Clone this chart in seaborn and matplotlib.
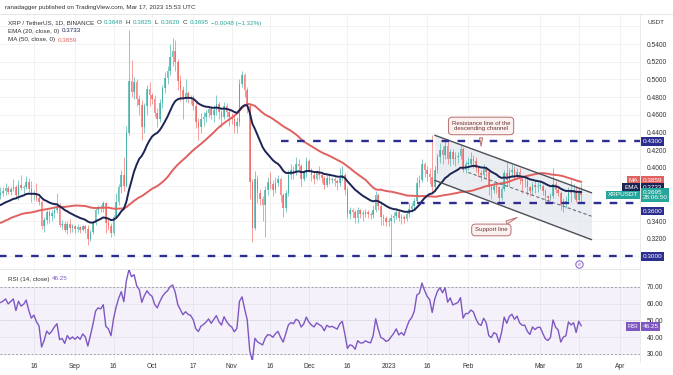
import matplotlib
matplotlib.use("Agg")
import matplotlib.dates as mdates
import matplotlib.pyplot as plt
import numpy as np
import pandas as pd
import seaborn as sns

W, H = 673, 375

# Daily closes before the visible window (2022-06-14 .. 2022-08-02), only used to warm up MA/EMA/RSI
warmup_close = [0.32, 0.32, 0.30, 0.31, 0.30, 0.32, 0.32, 0.33, 0.32, 0.34,
                0.36, 0.36, 0.35, 0.34, 0.33, 0.32, 0.31, 0.32, 0.32, 0.32,
                0.32, 0.32, 0.32, 0.33, 0.34, 0.33, 0.32, 0.31, 0.31, 0.32,
                0.33, 0.34, 0.34, 0.34, 0.36, 0.37, 0.36, 0.36, 0.35, 0.35,
                0.35, 0.33, 0.34, 0.36, 0.37, 0.37, 0.37, 0.38, 0.38, 0.370]

# XRP/USDT daily candles, 2022-08-03 .. 2023-03-17 (open = previous close)
aug_close = [0.372, 0.374, 0.377, 0.373, 0.376, 0.379, 0.370, 0.381, 0.377, 0.379,
             0.384, 0.376, 0.369, 0.372, 0.366, 0.362, 0.335, 0.341, 0.350, 0.346,
             0.349, 0.353, 0.356, 0.336, 0.337, 0.330, 0.337, 0.332, 0.334]
aug_high = [0.378, 0.379, 0.383, 0.380, 0.378, 0.388, 0.381, 0.386, 0.392, 0.381,
            0.391, 0.389, 0.385, 0.375, 0.383, 0.370, 0.364, 0.345, 0.352, 0.352,
            0.352, 0.356, 0.372, 0.360, 0.341, 0.340, 0.340, 0.342, 0.337]
aug_low = [0.365, 0.368, 0.370, 0.371, 0.369, 0.374, 0.366, 0.364, 0.375, 0.371,
           0.376, 0.373, 0.362, 0.364, 0.363, 0.358, 0.331, 0.328, 0.337, 0.338,
           0.340, 0.344, 0.349, 0.333, 0.331, 0.328, 0.325, 0.326, 0.328]

sep_close = [0.331, 0.333, 0.330, 0.334, 0.331, 0.320, 0.328, 0.338, 0.352, 0.356,
             0.355, 0.360, 0.338, 0.335, 0.326, 0.345, 0.362, 0.378, 0.392, 0.380,
             0.440, 0.498, 0.486, 0.497, 0.478, 0.471, 0.446, 0.470, 0.489, 0.482]
sep_high = [0.336, 0.337, 0.335, 0.336, 0.336, 0.336, 0.330, 0.340, 0.355, 0.358,
            0.358, 0.363, 0.362, 0.342, 0.338, 0.347, 0.372, 0.382, 0.398, 0.412,
            0.448, 0.556, 0.522, 0.503, 0.500, 0.482, 0.477, 0.474, 0.494, 0.497]
sep_low = [0.327, 0.328, 0.327, 0.329, 0.327, 0.313, 0.318, 0.325, 0.336, 0.348,
           0.350, 0.350, 0.326, 0.330, 0.322, 0.324, 0.343, 0.358, 0.372, 0.374,
           0.378, 0.437, 0.480, 0.478, 0.470, 0.460, 0.432, 0.440, 0.460, 0.470]

oct_close = [0.478, 0.462, 0.455, 0.473, 0.490, 0.502, 0.510, 0.525, 0.532, 0.520,
             0.498, 0.488, 0.478, 0.485, 0.480, 0.478, 0.470, 0.452, 0.446, 0.455,
             0.458, 0.462, 0.467, 0.460, 0.466, 0.472, 0.463, 0.458, 0.470, 0.463, 0.458]
oct_high = [0.485, 0.482, 0.468, 0.478, 0.494, 0.508, 0.515, 0.540, 0.547, 0.545,
            0.523, 0.505, 0.493, 0.500, 0.487, 0.483, 0.482, 0.475, 0.456, 0.462,
            0.463, 0.466, 0.470, 0.470, 0.471, 0.482, 0.475, 0.466, 0.475, 0.474, 0.467]
oct_low = [0.472, 0.458, 0.446, 0.452, 0.468, 0.485, 0.495, 0.505, 0.515, 0.510,
           0.488, 0.476, 0.455, 0.475, 0.474, 0.472, 0.465, 0.445, 0.432, 0.440,
           0.447, 0.452, 0.458, 0.455, 0.452, 0.460, 0.455, 0.446, 0.455, 0.458, 0.448]

nov_close = [0.455, 0.448, 0.452, 0.495, 0.505, 0.488, 0.470, 0.384, 0.332, 0.388,
             0.372, 0.365, 0.358, 0.375, 0.384, 0.382, 0.375, 0.383, 0.388, 0.370,
             0.355, 0.372, 0.392, 0.398, 0.395, 0.405, 0.402, 0.388, 0.394, 0.408]
nov_high = [0.462, 0.460, 0.458, 0.500, 0.510, 0.507, 0.492, 0.472, 0.388, 0.397,
            0.392, 0.376, 0.368, 0.380, 0.390, 0.395, 0.386, 0.390, 0.392, 0.390,
            0.372, 0.375, 0.398, 0.405, 0.402, 0.412, 0.410, 0.404, 0.398, 0.412]
nov_low = [0.450, 0.440, 0.440, 0.448, 0.492, 0.480, 0.462, 0.365, 0.316, 0.330,
           0.360, 0.358, 0.340, 0.322, 0.370, 0.376, 0.368, 0.372, 0.380, 0.362,
           0.345, 0.350, 0.368, 0.388, 0.388, 0.392, 0.398, 0.380, 0.385, 0.390]

dec_close = [0.398, 0.392, 0.388, 0.395, 0.392, 0.389, 0.381, 0.389, 0.386, 0.387,
             0.385, 0.383, 0.389, 0.392, 0.375, 0.348, 0.352, 0.350, 0.343, 0.352,
             0.348, 0.348, 0.350, 0.348, 0.347, 0.353, 0.370, 0.357, 0.345, 0.343, 0.339]
dec_high = [0.410, 0.400, 0.395, 0.398, 0.402, 0.394, 0.391, 0.392, 0.394, 0.390,
            0.390, 0.388, 0.400, 0.402, 0.394, 0.378, 0.356, 0.355, 0.352, 0.356,
            0.354, 0.352, 0.354, 0.352, 0.350, 0.358, 0.374, 0.372, 0.360, 0.348, 0.346]
dec_low = [0.395, 0.385, 0.382, 0.386, 0.388, 0.383, 0.376, 0.378, 0.382, 0.383,
           0.380, 0.375, 0.380, 0.386, 0.370, 0.343, 0.342, 0.344, 0.338, 0.338,
           0.343, 0.340, 0.345, 0.344, 0.342, 0.344, 0.350, 0.352, 0.336, 0.336, 0.334]

jan_close = [0.340, 0.343, 0.346, 0.350, 0.343, 0.345, 0.342, 0.348, 0.354, 0.357,
             0.363, 0.383, 0.386, 0.404, 0.398, 0.393, 0.390, 0.378, 0.398, 0.412,
             0.420, 0.415, 0.425, 0.410, 0.418, 0.410, 0.412, 0.414, 0.422, 0.398, 0.405]
jan_high = [0.344, 0.348, 0.350, 0.355, 0.352, 0.348, 0.347, 0.350, 0.360, 0.360,
            0.366, 0.390, 0.392, 0.410, 0.407, 0.402, 0.400, 0.437, 0.402, 0.416,
            0.428, 0.425, 0.432, 0.430, 0.422, 0.422, 0.418, 0.418, 0.426, 0.424, 0.408]
jan_low = [0.335, 0.302, 0.338, 0.342, 0.340, 0.337, 0.338, 0.340, 0.345, 0.350,
           0.352, 0.360, 0.378, 0.384, 0.390, 0.385, 0.382, 0.372, 0.374, 0.394,
           0.406, 0.405, 0.410, 0.404, 0.402, 0.405, 0.402, 0.406, 0.410, 0.395, 0.394]

feb_close = [0.405, 0.410, 0.408, 0.400, 0.394, 0.392, 0.400, 0.395, 0.378, 0.375,
             0.380, 0.378, 0.366, 0.376, 0.394, 0.386, 0.395, 0.398, 0.392, 0.396,
             0.388, 0.385, 0.385, 0.378, 0.374, 0.381, 0.378, 0.380]
feb_high = [0.412, 0.418, 0.415, 0.412, 0.402, 0.398, 0.404, 0.402, 0.397, 0.382,
            0.384, 0.384, 0.380, 0.380, 0.398, 0.407, 0.400, 0.405, 0.402, 0.400,
            0.400, 0.390, 0.392, 0.390, 0.380, 0.384, 0.386, 0.384]
feb_low = [0.398, 0.402, 0.400, 0.396, 0.390, 0.385, 0.388, 0.390, 0.370, 0.365,
           0.372, 0.372, 0.362, 0.364, 0.374, 0.380, 0.380, 0.390, 0.388, 0.388,
           0.382, 0.372, 0.378, 0.370, 0.368, 0.370, 0.372, 0.373]

mar_close = [0.380, 0.374, 0.368, 0.366, 0.368, 0.382, 0.375, 0.372, 0.358, 0.362,
             0.363, 0.375, 0.372, 0.374, 0.364, 0.3743, 0.3695]
mar_high = [0.386, 0.382, 0.376, 0.370, 0.372, 0.400, 0.385, 0.378, 0.374, 0.366,
            0.368, 0.378, 0.386, 0.382, 0.380, 0.378, 0.3825]
mar_low = [0.376, 0.370, 0.362, 0.363, 0.364, 0.366, 0.372, 0.368, 0.352, 0.350,
           0.355, 0.360, 0.362, 0.366, 0.362, 0.363, 0.362]

# Analyst drawings
level_prices = [0.43, 0.36, 0.30]
level_starts = ['2022-11-20', '2023-01-06', '2022-08-01']
channel_dates = ['2023-01-19', '2023-03-21']
resistance_prices = [0.437, 0.372]
support_prices = [0.386, 0.319]
mid_dates = ['2023-02-01', '2023-03-21']
mid_prices = [0.395, 0.3455]

tick_dates = ['2022-08-16', '2022-09-01', '2022-09-16', '2022-10-01', '2022-10-17',
              '2022-11-01', '2022-11-16', '2022-12-01', '2022-12-16', '2023-01-01',
              '2023-01-16', '2023-02-01', '2023-03-01', '2023-03-16', '2023-04-01']
tick_labels = ['16', 'Sep', '16', 'Oct', '17', 'Nov', '16', 'Dec', '16', '2023',
               '16', 'Feb', 'Mar', '16', 'Apr']
price_ticks = [0.30, 0.32, 0.34, 0.36, 0.38, 0.40, 0.42, 0.44, 0.46, 0.48, 0.50, 0.52, 0.54, 0.56]
rsi_ticks = [30, 40, 50, 60, 70]

UP, DOWN = '#26a69a', '#ef5350'
NAVY = '#2b2d8f'
EMA_C, MA_C, RSI_C = '#1c2454', '#e0615f', '#7e57c2'
TXT = '#333333'

# ---- build frame ----
close = aug_close + sep_close + oct_close + nov_close + dec_close + jan_close + feb_close + mar_close
high = aug_high + sep_high + oct_high + nov_high + dec_high + jan_high + feb_high + mar_high
low = aug_low + sep_low + oct_low + nov_low + dec_low + jan_low + feb_low + mar_low
dates = pd.date_range('2022-08-03', periods=len(close), freq='D')
all_dates = pd.date_range(end='2023-03-17', periods=len(warmup_close) + len(close), freq='D')
all_close = pd.Series(warmup_close + close, index=all_dates)

ema = all_close.ewm(span=20, adjust=False).mean()
ma = all_close.rolling(50).mean()
delta = all_close.diff()
gain = delta.clip(lower=0).ewm(alpha=1 / 14, adjust=False).mean()
loss = (-delta.clip(upper=0)).ewm(alpha=1 / 14, adjust=False).mean()
rsi = 100 - 100 / (1 + gain / loss)

df = pd.DataFrame({'close': close, 'high': high, 'low': low}, index=dates)
df['open'] = all_close.shift(1).loc[dates].values
df['x'] = mdates.date2num(df.index)
view = pd.DataFrame({'x': df['x'], 'ema': ema.loc[dates].values,
                     'ma': ma.loc[dates].values, 'rsi': rsi.loc[dates].values})

sns.set_theme(style="white")
plt.rcParams['font.family'] = ['Liberation Sans', 'DejaVu Sans']

fig = plt.figure(figsize=(W / 100, H / 100), dpi=100)
ax = fig.add_axes([0, 1 - 268 / H, 640 / W, (268 - 14) / H])
rax = fig.add_axes([0, 1 - 360 / H, 640 / W, 90 / H], sharex=ax)

sep1 = mdates.date2num(pd.Timestamp('2022-09-01'))
xmin, xmax = sep1 - 75 / 2.57, sep1 + 565 / 2.57


def dnum(s):
    return mdates.date2num(pd.Timestamp(s))


# channel shading + lines
cx = [dnum(d) for d in channel_dates]
ax.fill_between(cx, support_prices, resistance_prices, color='#e4e7ee', alpha=0.75, lw=0, zorder=1)
ax.plot(cx, resistance_prices, color='#4b4f58', lw=1.0, zorder=4)
ax.plot(cx, support_prices, color='#4b4f58', lw=1.0, zorder=4)
ax.plot([dnum(d) for d in mid_dates], mid_prices, color='#6b6f78', lw=0.8,
        ls=(0, (3, 2)), zorder=4)

# candles
up = df['close'] >= df['open']
cols = np.where(up, UP, DOWN)
ax.vlines(df['x'], df['low'], df['high'], colors=cols, lw=0.6, alpha=0.65, zorder=2)
body_lo = df[['open', 'close']].min(axis=1)
body_h = (df['close'] - df['open']).abs().clip(lower=0.0008)
ax.bar(df['x'], body_h, bottom=body_lo, width=0.62, color=cols, alpha=0.65, lw=0, zorder=2)

# moving averages
sns.lineplot(data=view, x='x', y='ma', color=MA_C, lw=1.4, ax=ax, zorder=3)
sns.lineplot(data=view, x='x', y='ema', color=EMA_C, lw=1.4, ax=ax, zorder=3)

# horizontal levels
for p, s in zip(level_prices, level_starts):
    ax.hlines(p, dnum(s), xmax, colors=NAVY, lw=1.7, linestyles=(0, (3.2, 3.6)), zorder=5)

ax.set_xlim(xmin, xmax)
ax.set_ylim(0.287, 0.574)
ax.set_yticks(price_ticks)
ax.set_yticklabels(['' if p in (0.30, 0.36, 0.38, 0.56) else f'{p:.4f}' for p in price_ticks])
ax.yaxis.tick_right()
ax.tick_params(axis='y', length=0, pad=5, labelsize=4.8, labelcolor=TXT)
ax.tick_params(axis='x', labelbottom=False, length=0)
ax.grid(True, color='#f0f0f0', lw=0.6)
ax.set_xlabel('')
ax.set_ylabel('')
for s in ax.spines.values():
    s.set_visible(False)

# callouts
box_kw = dict(boxstyle='round,pad=0.55,rounding_size=0.6', fc='#fbf1f0', ec='#b86e6c', lw=0.7)
arrow_kw = dict(arrowstyle='wedge,tail_width=0.5,shrink_factor=0.5', fc='#fbf1f0', ec='#b86e6c', lw=0.7)
ax.annotate('Resistance line of the\ndescending channel', xy=(dnum('2023-02-06'), 0.4215),
            xytext=(dnum('2023-02-06'), 0.4475), ha='center', va='center', fontsize=4.4,
            color='#6b3434', bbox=box_kw, arrowprops=arrow_kw, zorder=6)
ax.annotate('Support line', xy=(dnum('2023-02-21'), 0.3455),
            xytext=(dnum('2023-02-10'), 0.330), ha='center', va='center', fontsize=4.4,
            color='#6b3434', bbox=box_kw, arrowprops=arrow_kw, zorder=6)

# event marker
ax.scatter([dnum('2023-03-16')], [0.2915], s=28, facecolor='white', edgecolor='#8e6bc9', lw=0.8, zorder=6)
ax.text(dnum('2023-03-16'), 0.2915, 'e', fontsize=3.8, color='#8e6bc9', ha='center', va='center', zorder=7)


# right-hand price tags
def tag(a, y, txt, fc, x=1.004, ha='left', tc='white'):
    a.text(x, y, txt, transform=a.get_yaxis_transform(), ha=ha, va='center', fontsize=4.6,
           color=tc, bbox=dict(boxstyle='square,pad=0.28', fc=fc, ec='none'), clip_on=False, zorder=10)


tag(ax, 0.43, '0.4300', NAVY)
tag(ax, 0.3859, '0.3859', MA_C)
tag(ax, 0.3859, 'MA', MA_C, x=0.997, ha='right')
tag(ax, 0.3785, '0.3733', EMA_C)
tag(ax, 0.3785, 'EMA', EMA_C, x=0.997, ha='right')
tag(ax, 0.3695, '0.3695\n28:06:50', UP)
tag(ax, 0.3695, 'XRPUSDT', UP, x=0.997, ha='right')
tag(ax, 0.3514, '0.3600', NAVY)
tag(ax, 0.30, '0.3000', NAVY)

# ---- RSI panel ----
rax.axhspan(30, 70, color=RSI_C, alpha=0.08, lw=0)
rax.axhline(70, color='#a0a0a8', lw=0.7, ls=(0, (2, 2)))
rax.axhline(30, color='#a0a0a8', lw=0.7, ls=(0, (2, 2)))
rax.axhline(50, color='#c8c8d0', lw=0.6, ls=(0, (1, 2)))
sns.lineplot(data=view, x='x', y='rsi', color=RSI_C, lw=1.0, ax=rax)
rax.set_ylim(26.4, 80.1)
rax.set_yticks(rsi_ticks)
rax.set_yticklabels([f'{t:.2f}' for t in rsi_ticks])
rax.yaxis.tick_right()
rax.tick_params(axis='y', length=0, pad=5, labelsize=4.8, labelcolor=TXT)
rax.set_xticks([dnum(d) for d in tick_dates])
rax.set_xticklabels(tick_labels)
rax.tick_params(axis='x', length=0, pad=2, labelsize=4.8, labelcolor=TXT)
rax.set_xlim(xmin, xmax)
rax.grid(True, color='#f0f0f0', lw=0.6)
rax.set_xlabel('')
rax.set_ylabel('')
for s in rax.spines.values():
    s.set_visible(False)
tag(rax, 46.25, '46.25', RSI_C)
tag(rax, 46.25, 'RSI', RSI_C, x=0.997, ha='right')

# ---- header / legend texts ----
fig.add_artist(plt.Line2D([0, 1], [1 - 14 / H] * 2, color='#e2e2e2', lw=0.6))
fig.add_artist(plt.Line2D([0, 640 / W], [1 - 269 / H] * 2, color='#e2e2e2', lw=0.6))
fig.add_artist(plt.Line2D([640 / W] * 2, [1 - 362 / H, 1 - 14 / H], color='#e6e6e6', lw=0.6))

fs = 4.5
renderer = fig.canvas.get_renderer()


def chain(x, y, parts, gap=2.5):
    # lay out text pieces one after another on a single line (pixel coords)
    for txt, col in parts:
        t = fig.text(x / W, 1 - y / H, txt, fontsize=fs, color=col, va='center')
        x += t.get_window_extent(renderer=renderer).width + gap


chain(5, 8, [('ranadagger published on TradingView.com, Mar 17, 2023 15:53 UTC', TXT)])
chain(8, 23, [('XRP / TetherUS, 1D, BINANCE', TXT), ('O', TXT), ('0.3648', UP), ('H', TXT),
              ('0.3825', UP), ('L', TXT), ('0.3620', UP), ('C', TXT), ('0.3695', UP),
              ('\u22120.0048 (\u22121.32%)', UP)])
chain(8, 31, [('EMA (20, close, 0)', TXT), ('0.3733', EMA_C)])
chain(8, 40, [('MA (50, close, 0)', TXT), ('0.3859', MA_C)])
chain(8, 279, [('RSI (14, close)', TXT), ('46.25', RSI_C)])
fig.text(648 / W, 1 - 22 / H, 'USDT', fontsize=fs, color=TXT, va='center')

fig.savefig('out.png', dpi=100)
